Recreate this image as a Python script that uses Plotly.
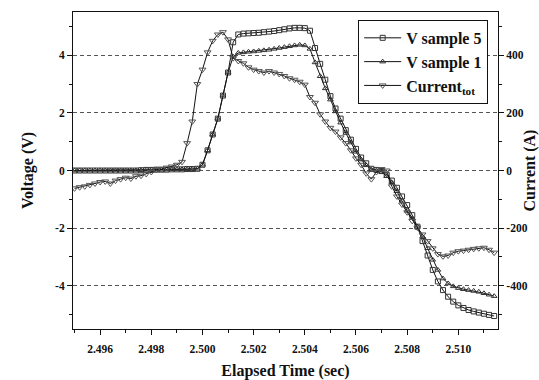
import plotly.graph_objects as go

t = [2.4950, 2.4952, 2.4954, 2.4956, 2.4958, 2.4960, 2.4962, 2.4964, 2.4966, 2.4968,
     2.4970, 2.4972, 2.4974, 2.4976, 2.4978, 2.4980, 2.4982, 2.4984, 2.4986, 2.4988,
     2.4990, 2.4992, 2.4994, 2.4996, 2.4998, 2.5000, 2.5002, 2.5004, 2.5006, 2.5008,
     2.5010, 2.5012, 2.5014, 2.5016, 2.5018, 2.5020, 2.5022, 2.5024, 2.5026, 2.5028,
     2.5030, 2.5032, 2.5034, 2.5036, 2.5038, 2.5040, 2.5042, 2.5044, 2.5046, 2.5048,
     2.5050, 2.5052, 2.5054, 2.5056, 2.5058, 2.5060, 2.5062, 2.5064, 2.5066, 2.5068,
     2.5070, 2.5072, 2.5074, 2.5076, 2.5078, 2.5080, 2.5082, 2.5084, 2.5086, 2.5088,
     2.5090, 2.5092, 2.5094, 2.5096, 2.5098, 2.5100, 2.5102, 2.5104, 2.5106, 2.5108,
     2.5110, 2.5112, 2.5114]

v_sample5 = [0, 0, 0, 0, 0, 0, 0, 0, 0, 0,
             0, 0, 0, 0.01, 0.02, 0.02, 0.03, 0.03, 0.03, 0.04,
             0.04, 0.04, 0.05, 0.05, 0.06, 0.2, 0.7, 1.25, 1.8, 2.6,
             3.4, 4.45, 4.72, 4.75, 4.76, 4.77, 4.78, 4.80, 4.82, 4.84,
             4.87, 4.90, 4.93, 4.95, 4.95, 4.94, 4.85, 4.25, 3.70, 3.15,
             2.58, 2.15, 1.80, 1.40, 1.07, 0.75, 0.45, 0.25, 0.06, 0.02,
             -0.02, -0.15, -0.35, -0.6, -0.9, -1.2, -1.55, -1.95, -2.45, -2.95,
             -3.45, -3.85, -4.15, -4.38, -4.55, -4.68, -4.77, -4.84, -4.89, -4.93,
             -4.97, -5.01, -5.05]

v_sample1 = [0, 0, 0, 0, 0, 0, 0, 0, 0, 0,
             0, 0, 0, 0.01, 0.02, 0.02, 0.03, 0.03, 0.03, 0.04,
             0.04, 0.04, 0.05, 0.05, 0.06, 0.2, 0.7, 1.25, 1.8, 2.6,
             3.4, 3.95, 4.08, 4.10, 4.12, 4.13, 4.15, 4.17, 4.19, 4.22,
             4.25, 4.28, 4.31, 4.34, 4.36, 4.34, 4.22, 3.75, 3.27, 2.85,
             2.46, 2.05, 1.66, 1.30, 0.97, 0.65, 0.38, 0.18, 0.03, 0.0,
             -0.05, -0.2, -0.42, -0.72, -1.05, -1.4, -1.65, -1.95, -2.3, -2.7,
             -3.1, -3.45, -3.75, -3.92, -4.02, -4.08, -4.12, -4.15, -4.18, -4.21,
             -4.26, -4.31, -4.36]

current_tot = [-62, -58, -55, -50, -45, -40, -38, -45, -35, -30,
               -25, -28, -20, -18, -12, -5, 2, 5, 10, 14,
               20, 30, 95, 170, 300, 350, 410, 450, 472, 480,
               455, 390, 380, 372, 358, 350, 345, 340, 345, 340,
               335, 328, 320, 315, 308, 298, 255, 235, 195, 170,
               148, 135, 115, 95, 70, 42, 20, -10, -30, -5,
               5, 0, -55, -90, -118, -145, -175, -198, -222, -245,
               -270, -290, -298, -295, -285, -280, -278, -275, -272, -270,
               -268, -275, -285]

x_ticks = [2.496, 2.498, 2.500, 2.502, 2.504, 2.506, 2.508, 2.510]
x_labels = ["2.496", "2.498", "2.500", "2.502", "2.504", "2.506", "2.508", "2.510"]
v_ticks = [-4, -2, 0, 2, 4]
v_labels = ["-4", "-2", "0", "2", "4"]
i_ticks = [-400, -200, 0, 200, 400]
i_labels = ["-400", "-200", "0", "200", "400"]

FONT = "Liberation Serif"
BLACK = "#111111"

def bold(labels):
    return ["<b>%s</b>" % s for s in labels]

fig = go.Figure()
fig.add_trace(go.Scatter(x=t, y=v_sample5, name="V sample 5", mode="lines+markers",
                         line=dict(color=BLACK, width=1),
                         marker=dict(symbol="square-open", size=5, color="#333333")))
fig.add_trace(go.Scatter(x=t, y=v_sample1, name="V sample 1", mode="lines+markers",
                         line=dict(color=BLACK, width=1),
                         marker=dict(symbol="triangle-up-open", size=5, color="#333333")))
fig.add_trace(go.Scatter(x=t, y=current_tot, name="<b>Current<sub>tot</sub></b>", mode="lines+markers",
                         yaxis="y2",
                         line=dict(color=BLACK, width=1),
                         marker=dict(symbol="triangle-down-open", size=6, color="#555555")))
fig.data[0].name = "<b>V sample 5</b>"
fig.data[1].name = "<b>V sample 1</b>"

tickfont = dict(family=FONT, size=11.5, color=BLACK)
titlefont = dict(family=FONT, size=16, color=BLACK)

fig.update_layout(
    width=539, height=380,
    margin=dict(l=73, r=41, t=12, b=51, autoexpand=False),
    paper_bgcolor="white", plot_bgcolor="white",
    showlegend=True,
    legend=dict(x=0.671, y=0.975, xanchor="left", yanchor="top",
                bordercolor=BLACK, borderwidth=1, bgcolor="white",
                font=dict(family=FONT, size=16, color=BLACK),
                tracegroupgap=0, itemwidth=37),
    xaxis=dict(range=[2.49494, 2.51155], tickvals=x_ticks, ticktext=bold(x_labels),
               showgrid=False, zeroline=False, showline=True, linecolor=BLACK, linewidth=1,
               mirror=True, ticks="outside", ticklen=5, tickcolor=BLACK, automargin=False,
               ticklabelstandoff=4,
               minor=dict(dtick=0.001, tick0=2.495, ticks="outside", ticklen=3, tickcolor=BLACK),
               tickfont=tickfont,
               title=dict(text="<b>Elapsed Time (sec)</b>", font=titlefont, standoff=12)),
    yaxis=dict(range=[-5.5, 5.5], tickvals=v_ticks, ticktext=bold(v_labels),
               showgrid=True, gridcolor="#555555", griddash="4px,3px", gridwidth=1,
               zeroline=False, showline=True, linecolor=BLACK, linewidth=1,
               ticks="outside", ticklen=5, tickcolor=BLACK, automargin=False,
               minor=dict(dtick=1, tick0=0, ticks="outside", ticklen=3, tickcolor=BLACK, showgrid=False),
               tickfont=tickfont,
               title=dict(text="<b>Voltage (V)</b>", font=titlefont, standoff=17)),
    yaxis2=dict(range=[-550, 550], overlaying="y", side="right",
                tickvals=i_ticks, ticktext=bold(i_labels),
                showgrid=False, zeroline=False, showline=True, linecolor=BLACK, linewidth=1,
                ticks="outside", ticklen=5, tickcolor=BLACK, automargin=False,
                minor=dict(dtick=100, tick0=0, ticks="outside", ticklen=3, tickcolor=BLACK),
                tickfont=tickfont,
                title=dict(text="<b>Current (A)</b>", font=titlefont, standoff=2)),
)

fig.write_html("out.html")
